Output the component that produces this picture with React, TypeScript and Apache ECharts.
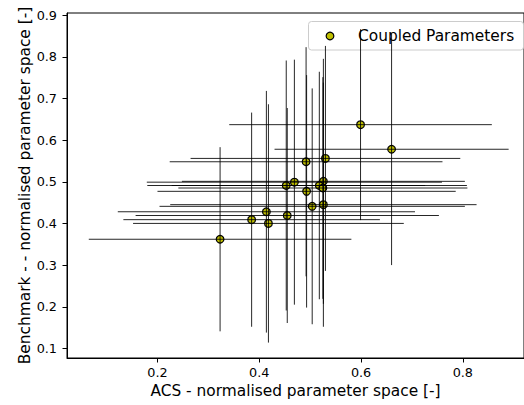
import React, { useEffect, useRef } from "react";
import * as echarts from "echarts";

// ACS (x) and Benchmark (y) normalised parameter values, with symmetric errors
const acs = [0.599, 0.660, 0.492, 0.530, 0.469, 0.453, 0.493, 0.526, 0.518, 0.525, 0.504, 0.526, 0.414, 0.455, 0.418, 0.385, 0.323];
const bench = [0.637, 0.578, 0.548, 0.556, 0.499, 0.491, 0.477, 0.501, 0.491, 0.485, 0.441, 0.445, 0.428, 0.419, 0.400, 0.409, 0.362];
const acsErr = [0.258, 0.230, 0.268, 0.265, 0.290, 0.273, 0.293, 0.278, 0.290, 0.284, 0.300, 0.301, 0.292, 0.298, 0.266, 0.252, 0.258];
const benchErr = [0.229, 0.278, 0.275, 0.270, 0.294, 0.300, 0.279, 0.294, 0.273, 0.266, 0.283, 0.293, 0.290, 0.258, 0.286, 0.257, 0.221];

const xTicks = [0.2, 0.4, 0.6, 0.8];
const yTicks = [0.1, 0.2, 0.3, 0.4, 0.5, 0.6, 0.7, 0.8, 0.9];

const seriesName = "Coupled Parameters";
const xLabel = "ACS - normalised parameter space [-]";
const yLabel = "Benchmark - - normalised parameter space [-]";

const FONT = "DejaVu Sans";

export default function App() {
  const ref = useRef<HTMLDivElement>(null);

  useEffect(() => {
    if (!ref.current) return;
    const chart = echarts.init(ref.current, null, { renderer: "svg" });

    const points = acs.map((x, i) => [x, bench[i]]);
    const errData = acs.map((x, i) => [x, bench[i], acsErr[i], benchErr[i]]);

    const option: any = {
      animation: false,
      backgroundColor: "#fff",
      grid: {
        left: 67,
        top: 13,
        right: -1,
        bottom: 47,
        show: true,
        borderColor: "#000",
        borderWidth: 1,
        backgroundColor: "transparent",
      },
      xAxis: {
        type: "value",
        min: 0.0222,
        max: 0.9202,
        name: xLabel,
        nameLocation: "middle",
        nameGap: 25.5,
        nameTextStyle: { fontFamily: FONT, fontSize: 15.4, color: "#000" },
        splitLine: { show: false },
        axisLine: { show: true, lineStyle: { color: "#000", width: 1 } },
        axisTick: { show: true, length: 4.5, lineStyle: { color: "#000", width: 1 }, customValues: xTicks },
        axisLabel: {
          fontFamily: FONT,
          fontSize: 12.8,
          color: "#000",
          margin: 8,
          customValues: xTicks,
          formatter: (v: number) => v.toFixed(1),
        },
      },
      yAxis: {
        type: "value",
        min: 0.077,
        max: 0.905,
        splitLine: { show: false },
        axisLine: { show: true, lineStyle: { color: "#000", width: 1 } },
        axisTick: { show: true, length: 4.5, lineStyle: { color: "#000", width: 1 }, customValues: yTicks },
        axisLabel: {
          fontFamily: FONT,
          fontSize: 12.8,
          color: "#000",
          margin: 10,
          customValues: yTicks,
          formatter: (v: number) => v.toFixed(1),
        },
      },
      series: [
        {
          name: seriesName,
          type: "scatter",
          data: points,
          symbol: "circle",
          symbolSize: 7.7,
          itemStyle: { color: "#bfbf00", borderColor: "#000", borderWidth: 1.2, opacity: 1 },
          z: 2,
        },
        {
          type: "custom",
          data: errData,
          z: 3,
          silent: true,
          renderItem: (params: any, api: any) => {
            const x = api.value(0);
            const y = api.value(1);
            const ex = api.value(2);
            const ey = api.value(3);
            const l = api.coord([x - ex, y]);
            const r = api.coord([x + ex, y]);
            const t = api.coord([x, y + ey]);
            const b = api.coord([x, y - ey]);
            const st = { stroke: "#000", lineWidth: 1, opacity: 0.85 };
            return {
              type: "group",
              children: [
                { type: "line", shape: { x1: l[0], y1: l[1], x2: r[0], y2: r[1] }, style: st },
                { type: "line", shape: { x1: t[0], y1: t[1], x2: b[0], y2: b[1] }, style: st },
              ],
            };
          },
        },
      ],
      graphic: [
        {
          type: "text",
          x: 25,
          y: 185.5,
          rotation: Math.PI / 2,
          style: {
            text: yLabel,
            fontFamily: FONT,
            fontSize: 15.4,
            fill: "#000",
            align: "center",
            verticalAlign: "middle",
          },
        },
        {
          type: "group",
          z: 100,
          children: [
            {
              type: "rect",
              shape: { x: 308.5, y: 21.5, width: 215, height: 28.5, r: 3 },
              style: { fill: "rgba(255,255,255,0.8)", stroke: "#cccccc", lineWidth: 1 },
            },
            {
              type: "circle",
              shape: { cx: 330, cy: 36, r: 3.85 },
              style: { fill: "#bfbf00", stroke: "#000", lineWidth: 1.2 },
            },
            {
              type: "text",
              x: 358,
              y: 36,
              style: {
                text: seriesName,
                fontFamily: FONT,
                fontSize: 15.4,
                fill: "#000",
                verticalAlign: "middle",
                align: "left",
              },
            },
          ],
        },
      ],
    };

    chart.setOption(option);
    return () => {
      chart.dispose();
    };
  }, []);

  return (
    <div
      ref={ref}
      style={{ position: "fixed", left: 0, top: 0, width: 524, height: 405, background: "#fff" }}
    />
  );
}
